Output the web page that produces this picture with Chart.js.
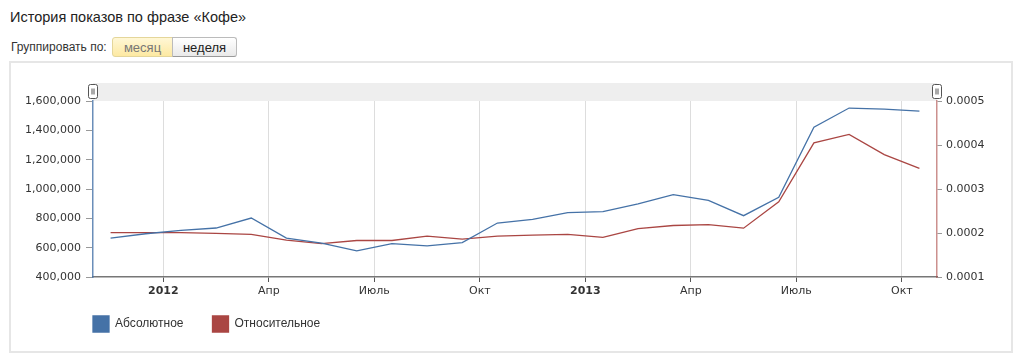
<!DOCTYPE html>
<html>
<head>
<meta charset="utf-8">
<script src="https://cdn.jsdelivr.net/npm/chart.js@4.4.0/dist/chart.umd.min.js"></script>
<style>
  body { margin: 0; background: #fff; font-family: Arial, "Liberation Sans", sans-serif; }
  .page { position: relative; width: 1024px; height: 363px; overflow: hidden; }
  .title { position: absolute; left: 10px; top: 9px; font-size: 14.5px; color: #222; }
  .group { position: absolute; left: 11px; top: 40px; font-size: 12px; color: #333; }
  .btn { position: absolute; top: 37px; height: 20px; font-size: 13px; line-height: 19px; text-align: center; box-sizing: border-box; border: 1px solid #c8c8c8; }
  .btn.on { left: 112px; width: 61px; background: linear-gradient(#fff7d6, #fde9a2); color: #777; border-color: #e4d69a; border-radius: 3px 0 0 3px; }
  .btn.off { left: 172px; width: 65px; background: linear-gradient(#ffffff, #e9e9e9); color: #222; border-color: #bbb; border-bottom-color: #999; border-radius: 0 3px 3px 0; }
  .box { position: absolute; left: 9px; top: 61px; width: 1004px; height: 292px; box-sizing: border-box; border: 2px solid #e6e6e6; }
  canvas { position: absolute; left: 0; top: 0; }
</style>
</head>
<body>
<div class="page">
  <div class="title">История показов по фразе «Кофе»</div>
  <div class="group">Группировать по:</div>
  <div class="btn on">месяц</div>
  <div class="btn off">неделя</div>
  <div class="box"></div>
  <canvas id="historyChart" width="1024" height="363"></canvas>
</div>
<script>
// months from Nov 2011 to Oct 2013
const months = ["2011-11", "2011-12", "2012-01", "2012-02", "2012-03", "2012-04", "2012-05", "2012-06",
  "2012-07", "2012-08", "2012-09", "2012-10", "2012-11", "2012-12", "2013-01", "2013-02",
  "2013-03", "2013-04", "2013-05", "2013-06", "2013-07", "2013-08", "2013-09", "2013-10"];

const absoluteValues = [665000, 695000, 718000, 734000, 802000, 665000, 631000, 578000,
  628000, 612000, 635000, 768000, 793000, 839000, 846000, 898000,
  962000, 923000, 818000, 944000, 1422000, 1552000, 1545000, 1531000];

const relativeValues = [0.000201, 0.000201, 0.000201, 0.000199, 0.000197, 0.000184, 0.000176, 0.000183,
  0.000183, 0.000193, 0.000186, 0.000193, 0.000195, 0.000197, 0.000190, 0.000210,
  0.000217, 0.000219, 0.000211, 0.000271, 0.000405, 0.000424, 0.000378, 0.000347];

// x ticks: months counted from Nov 2011
const tickPositions = [2, 5, 8, 11, 14, 17, 20, 23];
const tickLabels = ["2012", "Апр", "Июль", "Окт", "2013", "Апр", "Июль", "Окт"];

const blue = "#4572A7";
const red = "#AA4643";
const axisFont = "'DejaVu Sans', Verdana, sans-serif";

function toPoints(values) {
  return values.map((v, i) => ({ x: i + 0.5, y: v }));
}

// gray navigator band with handles above plot area
const navigatorBand = {
  id: "navigatorBand",
  afterLayout(chart) {
    // legend sits under the plot, lined up with its left edge
    const legend = chart.legend;
    const pad = legend.options.labels.padding;
    const h = legend.height;
    legend.left = chart.chartArea.left - pad;
    legend.top = chart.chartArea.bottom + 10;
    legend.bottom = legend.top + h;
  },
  beforeDraw(chart) {
    const { ctx, chartArea } = chart;
    ctx.save();
    ctx.fillStyle = "#eeeeee";
    ctx.fillRect(chartArea.left, chartArea.top - 18, chartArea.right - chartArea.left, 18);
    ctx.restore();
  },
  afterDraw(chart) {
    const { ctx, chartArea } = chart;
    [chartArea.left, chartArea.right].forEach(x => {
      const hx = Math.round(x) - 4.5, hy = chartArea.top - 16.5;
      ctx.save();
      ctx.fillStyle = "#fff";
      ctx.strokeStyle = "#555";
      ctx.lineWidth = 1;
      ctx.beginPath();
      ctx.roundRect(hx, hy, 9, 14, 2);
      ctx.fill();
      ctx.stroke();
      ctx.beginPath();
      ctx.moveTo(hx + 3.5, hy + 4); ctx.lineTo(hx + 3.5, hy + 10);
      ctx.moveTo(hx + 5.5, hy + 4); ctx.lineTo(hx + 5.5, hy + 10);
      ctx.stroke();
      ctx.restore();
    });
  }
};

const config = {
  type: "line",
  data: {
    datasets: [
      {
        label: "Абсолютное",
        data: toPoints(absoluteValues),
        borderColor: blue,
        backgroundColor: blue,
        borderWidth: 1.3,
        pointRadius: 0,
        yAxisID: "y",
      },
      {
        label: "Относительное",
        data: toPoints(relativeValues),
        borderColor: red,
        backgroundColor: red,
        borderWidth: 1.3,
        pointRadius: 0,
        yAxisID: "y1",
      },
    ],
  },
  options: {
    responsive: false,
    animation: false,
    devicePixelRatio: 1,
    layout: { padding: { top: 101, left: 20, right: 0, bottom: 9 } },
    plugins: {
      tooltip: { enabled: false },
      legend: {
        position: "bottom",
        align: "start",
        labels: {
          boxWidth: 16,
          boxHeight: 16,
          padding: 29,
          color: "#333",
          font: { family: "Arial, 'Liberation Sans', sans-serif", size: 12 },
        },
      },
    },
    scales: {
      x: {
        type: "linear",
        min: 0,
        max: 24,
        afterBuildTicks: scale => {
          scale.ticks = tickPositions.map(v => ({ value: v }));
        },
        afterFit: scale => { scale.height = 22; },
        ticks: {
          autoSkip: false,
          maxRotation: 0,
          padding: 3,
          color: "#333",
          font: ctx => ({ family: axisFont, size: 11, weight: /^\d{4}$/.test(tickLabels[ctx.index]) ? "bold" : "normal" }),
          callback: (value, i) => tickLabels[i],
        },
        grid: { color: "#dddddd", tickColor: "#555", tickLength: 5 },
        border: { color: "#777", width: 1.5 },
      },
      y: {
        position: "left",
        min: 400000,
        max: 1600000,
        afterFit: scale => { scale.width = 73; },
        ticks: {
          stepSize: 200000,
          padding: 5,
          color: "#333",
          font: { family: axisFont, size: 11 },
          callback: v => v.toLocaleString("en-US"),
        },
        grid: { drawOnChartArea: false, tickLength: 7, tickColor: "#999" },
        border: { color: "rgba(69,114,167,0.8)", width: 1.5 },
      },
      y1: {
        position: "right",
        min: 0.0001,
        max: 0.0005,
        afterFit: scale => { scale.width = 87; },
        ticks: {
          stepSize: 0.0001,
          padding: 4,
          color: "#333",
          font: { family: axisFont, size: 11 },
          callback: v => v.toFixed(4),
        },
        grid: { drawOnChartArea: false, tickLength: 5, tickColor: "#999" },
        border: { color: "rgba(170,70,67,0.6)", width: 1.5 },
      },
    },
  },
  plugins: [navigatorBand],
};

const canvas = document.getElementById("historyChart");
if (canvas) {
  new Chart(canvas, config);
} else {
  console.error("Canvas element not found");
}
</script>
</body>
</html>
